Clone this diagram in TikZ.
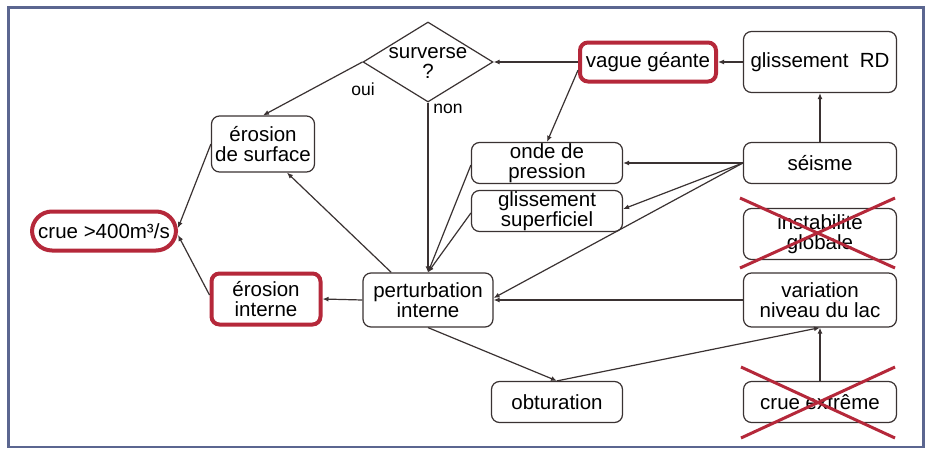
\documentclass[tikz,border=0pt]{standalone}
\usepackage{fontspec}
\setmainfont{Liberation Sans}
\usetikzlibrary{shapes.geometric,arrows.meta,calc}
\definecolor{framec}{HTML}{5B6690}
\definecolor{boxc}{HTML}{3A3232}
\definecolor{redc}{HTML}{B5283A}
\tikzset{
  bx/.style={draw=boxc, line width=1.2pt, rounded corners=8pt, align=center, inner sep=0pt,
    font=\fontsize{20.5pt}{20pt}\selectfont, text=black},
  redbx/.style={bx, draw=redc, line width=4pt},
  conn/.style={draw=boxc, line width=1.2pt, -{Latex[length=6pt,width=5pt]}},
  lab/.style={font=\fontsize{17.5pt}{18pt}\selectfont, inner sep=0pt},
  cross/.style={draw=redc, line width=3pt}
}
\begin{document}
\begin{tikzpicture}[x=1pt,y=-1pt]
\useasboundingbox (0,0) rectangle (932,450);
\fill[white] (0,0) rectangle (932,450);
\draw[framec, line width=2.5pt] (8.5,7.5) rectangle (923.5,447);

% nodes
\node[diamond, draw=boxc, line width=1.2pt, minimum width=130pt, minimum height=80pt, inner sep=0pt] (dia) at (428,62) {};
\node[bx, draw=none, font=\fontsize{20.5pt}{20pt}\selectfont] (diat) at (428,63) {surverse\\?};
\node[redbx, minimum width=136pt, minimum height=39pt] (vg) at (648,62) {vague géante};
\node[bx, minimum width=153pt, minimum height=61pt] (grd) at (820,62) {glissement\ \ RD};
\node[bx, minimum width=103pt, minimum height=56pt] (es) at (263,144) {érosion\\de surface};
\node[redbx, rounded corners=20pt, minimum width=144pt, minimum height=39pt] (crue) at (104,231) {crue >400m³/s};
\node[redbx, minimum width=109pt, minimum height=51pt] (ei) at (266,299) {érosion\\interne};
\node[bx, minimum width=130pt, minimum height=54pt] (pi) at (428,300) {perturbation\\interne};
\node[bx, minimum width=151pt, minimum height=41pt] (op) at (547,163) {onde de\\pression};
\node[bx, minimum width=151pt, minimum height=41pt] (gs) at (547,211) {glissement\\superficiel};
\node[bx, minimum width=153pt, minimum height=41pt] (se) at (820,163) {séisme};
\node[bx, minimum width=153pt, minimum height=51pt] (ig) at (820,234) {instabilité\\globale};
\node[bx, minimum width=153pt, minimum height=54pt] (vn) at (820,300) {variation\\niveau du lac};
\node[bx, minimum width=153pt, minimum height=41pt] (ce) at (820,402) {crue extrême};
\node[bx, minimum width=131pt, minimum height=41pt] (ob) at (557,402) {obturation};

\node[lab] (oui) at (363,89) {oui};
\node[lab] (non) at (448,109) {non};

% connectors
\draw[conn] (grd.west) -- (vg.east);
\draw[conn] (vg.west) -- (dia.east);
\draw[conn] ($(vg.west)!0.38!(vg.south west)$) -- (op.north);
\draw[conn] (dia.west) -- (es.north);
\draw[conn] (dia.south) -- (pi.north);
\draw[conn] (se.north) -- (grd.south);
\draw[conn] (se.west) -- (op.east);
\draw[conn] (se.west) -- ($(gs.east)+(0,-2)$);
\draw[conn] (se.west) -- ($(pi.east)+(0,-2)$);
\draw[conn] ($(op.west)+(0,2)$) -- (pi.north);
\draw[conn] ($(gs.west)+(0,2)$) -- (pi.north);
\draw[conn] ($(pi.north west)!0.22!(pi.north east)$) -- ($(es.south west)!0.73!(es.south east)$);
\draw[conn] (pi.west) -- (ei.east);
\draw[conn] (es.west) -- ($(crue.east)+(0,-3)$);
\draw[conn] ($(ei.west)+(0,-4)$) -- ($(crue.east)+(0,4)$);
\draw[conn] (vn.west) -- (pi.east);
\draw[conn] (pi.south) -- (ob.north);
\draw[conn] (ob.north) -- (vn.south);
\draw[conn] (ce.north) -- (vn.south);

% red crosses
\coordinate (x1a) at (740,198); \coordinate (x1b) at (895,268);
\coordinate (x1c) at (740,268); \coordinate (x1d) at (895,198);
\draw[cross] (x1a) -- (x1b); \draw[cross] (x1c) -- (x1d);
\coordinate (x2a) at (741,367); \coordinate (x2b) at (895,438);
\coordinate (x2c) at (741,438); \coordinate (x2d) at (895,367);
\draw[cross] (x2a) -- (x2b); \draw[cross] (x2c) -- (x2d);
\end{tikzpicture}
\end{document}
